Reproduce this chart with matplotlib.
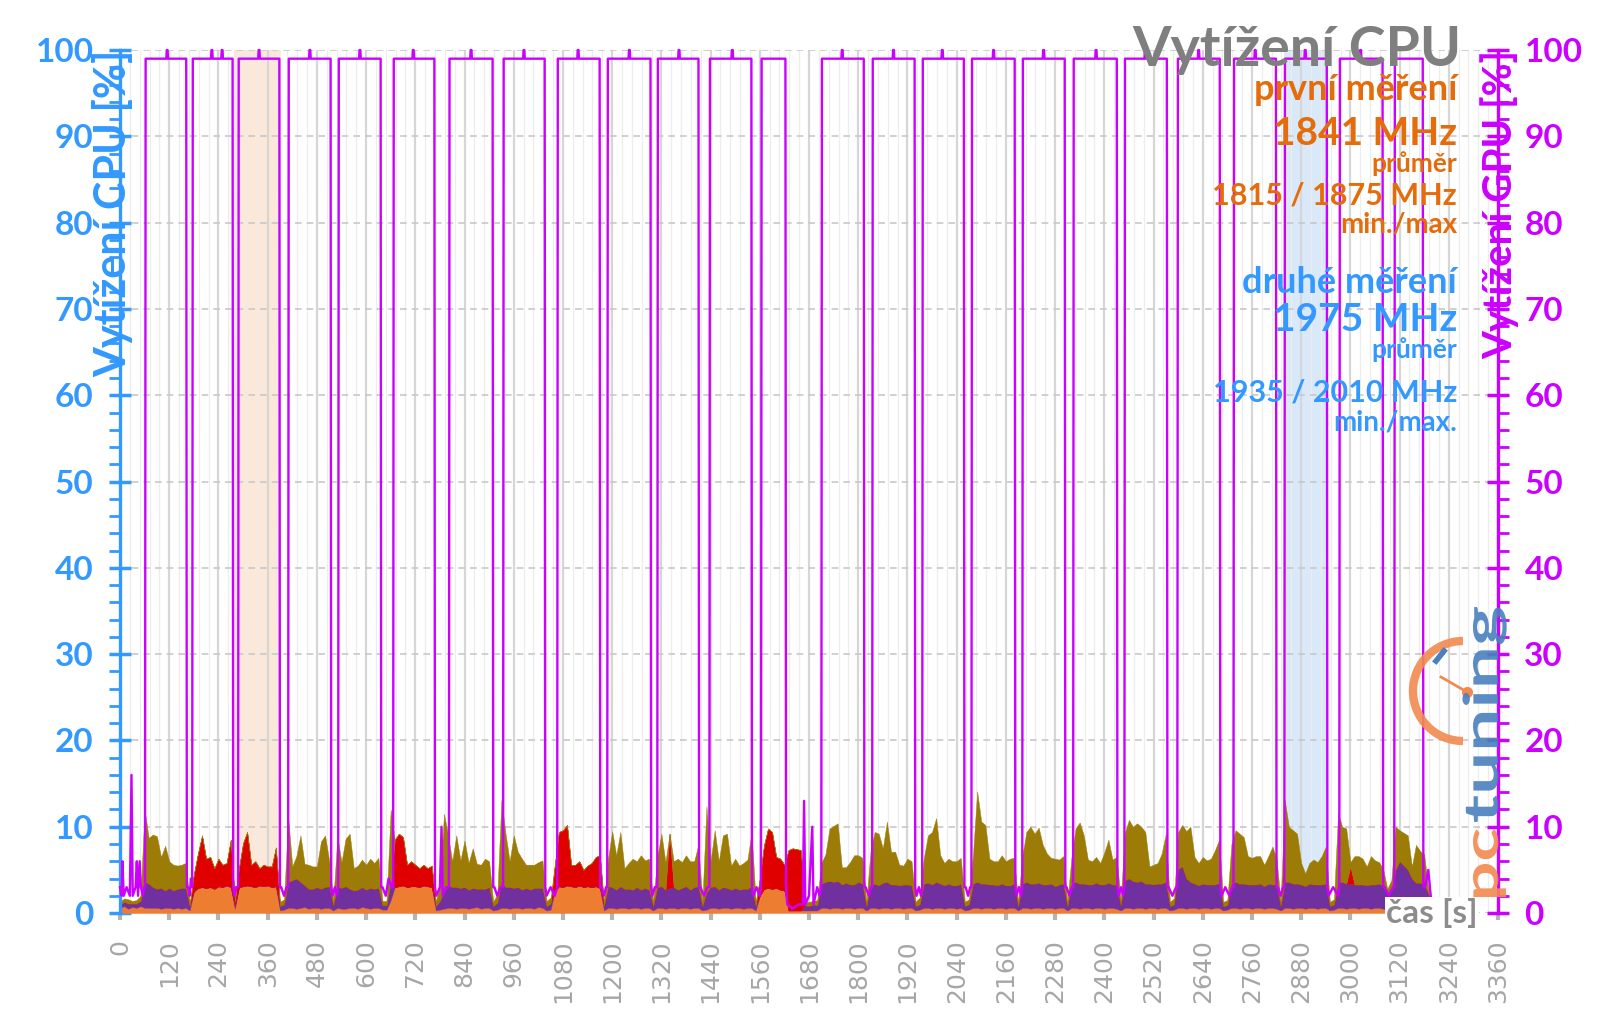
import numpy as np
import matplotlib
matplotlib.use("Agg")
import matplotlib.pyplot as plt
from matplotlib.ticker import MultipleLocator
from matplotlib.patches import Arc, PathPatch
from matplotlib.lines import Line2D
from matplotlib.textpath import TextPath
from matplotlib.font_manager import FontProperties
from matplotlib.transforms import Affine2D, IdentityTransform

plt.rcParams["font.family"] = ["Lato", "DejaVu Sans"]

# CPU load, stacked layers (%), one sample every 10 s (0 ... 3200 s)
cpu_orange = [
    0.6, 0.8, 0.5, 0.7, 0.6, 0.8,                                # 0-50
    0.6, 0.6, 0.6, 0.6, 0.5, 0.6, 0.6, 0.5, 0.6, 0.5, 0.6,       # 60-160
    0.3,
    2.5, 2.9, 3.0, 2.9, 3.0, 2.8, 3.1, 3.0, 3.2, 3.0,            # 180-270
    0.5,
    3.0, 3.1, 3.2, 3.1, 3.0, 3.2, 3.1, 3.2, 3.0, 3.1,            # 290-380
    0.3, 0.4,
    0.6, 0.6, 0.5, 0.6, 0.7, 0.5, 0.6, 0.6, 0.5, 0.6, 0.6,       # 410-510
    0.3,
    0.6, 0.5, 0.5, 0.6, 0.6, 0.5, 0.7, 0.6, 0.5, 0.6, 0.6,       # 530-630
    0.4, 0.4, 1.5,
    3.0, 3.1, 3.2, 3.0, 3.1, 3.1, 3.0, 3.2, 3.1, 3.0,            # 670-760
    0.3, 0.4, 0.5,
    0.6, 0.6, 0.5, 0.6, 0.6, 0.5, 0.6, 0.7, 0.5, 0.6, 0.6,       # 800-900
    0.3, 0.4,
    0.6, 0.6, 0.5, 0.6, 0.6, 0.5, 0.6, 0.6, 0.5, 0.7, 0.6,       # 930-1030
    0.3, 0.4,
    2.5, 3.1, 3.0, 3.2, 3.1, 3.0, 3.2, 3.0, 3.1, 3.0, 3.1, 2.9,  # 1060-1170
    0.3,
    0.6, 0.6, 0.5, 0.6, 0.6, 0.5, 0.6, 0.6, 0.5, 0.6, 0.6,       # 1190-1290
    0.3,
    0.6, 0.6, 0.5, 0.6, 0.6, 0.5, 0.6, 0.6, 0.5, 0.6, 0.6,       # 1310-1410
    0.3, 0.4,
    0.6, 0.6, 0.5, 0.6, 0.6, 0.5, 0.6, 0.6, 0.5, 0.6, 0.6,       # 1440-1540
    0.3,
    2.0, 2.8, 2.9, 2.8, 2.9, 2.7, 2.6,                           # 1560-1620
    0.3, 0.3, 0.3, 0.3,                                          # 1630-1660
    0.3, 0.3, 0.3, 0.3,                                          # 1670-1700
    0.6, 0.6, 0.5, 0.6, 0.6, 0.5, 0.6, 0.6, 0.5, 0.6, 0.6,       # 1710-1810
    0.3,
    0.6, 0.6, 0.5, 0.6, 0.6, 0.5, 0.6, 0.6, 0.5, 0.6, 0.6,       # 1830-1930
    0.3, 0.4,
    0.6, 0.6, 0.5, 0.6, 0.6, 0.5, 0.6, 0.6, 0.5, 0.6,            # 1960-2050
    0.3, 0.4,
    0.6, 0.6, 0.5, 0.6, 0.6, 0.5, 0.6, 0.6, 0.5, 0.6, 0.6,       # 2080-2180
    0.3,
    0.6, 0.6, 0.5, 0.6, 0.6, 0.5, 0.6, 0.6, 0.5, 0.6, 0.6,       # 2200-2300
    0.3,
    0.6, 0.6, 0.5, 0.6, 0.6, 0.5, 0.6, 0.6, 0.5, 0.6, 0.6, 0.5,  # 2320-2430
    0.3,
    0.6, 0.6, 0.5, 0.6, 0.6, 0.5, 0.6, 0.6, 0.5, 0.6, 0.6,       # 2450-2550
    0.3, 0.4,
    0.6, 0.6, 0.5, 0.6, 0.6, 0.5, 0.6, 0.6, 0.5, 0.6, 0.6,       # 2580-2680
    0.3, 0.4,
    0.6, 0.6, 0.5, 0.6, 0.6, 0.5, 0.6, 0.6, 0.5, 0.6, 0.6, 0.5,  # 2710-2820
    0.3,
    0.6, 0.6, 0.5, 0.6, 0.6, 0.5, 0.6, 0.6, 0.5, 0.6, 0.6,       # 2840-2940
    0.3, 0.4,
    0.6, 0.6, 0.5, 0.6, 0.6, 0.5, 0.6, 0.6, 0.5, 0.6, 0.6, 0.5,  # 2970-3080
    0.3, 0.3,
    0.5, 0.5, 0.5, 0.5, 0.5, 0.5, 0.5, 0.5,                      # 3110-3180
    0.3, 0.0,
]

cpu_purple = [
    0.4, 0.5, 0.6, 0.4, 0.5, 0.6,
    3.0, 2.8, 2.4, 2.2, 2.4, 2.0, 2.3, 2.1, 2.2, 2.4, 2.3,
    0.5,
    0, 0, 0, 0, 0, 0, 0, 0, 0, 0,
    0.3,
    0, 0, 0, 0, 0, 0, 0, 0, 0, 0,
    0.5, 0.6,
    3.0, 3.2, 3.5, 3.0, 2.5, 2.3, 2.2, 2.4, 2.3, 2.4, 2.5,
    0.6,
    2.5, 2.4, 2.6, 2.2, 2.0, 2.2, 2.3, 2.1, 2.4, 2.2, 2.3,
    0.5, 0.5, 2.0,
    0, 0, 0, 0, 0, 0, 0, 0, 0, 0,
    0.5, 1.0, 2.0,
    2.6, 2.4, 2.5, 2.3, 2.4, 2.2, 2.3, 2.1, 2.3, 2.2, 2.4,
    0.5, 0.8,
    3.0, 2.4, 2.5, 2.3, 2.4, 2.2, 2.3, 2.1, 2.4, 2.2, 2.3,
    0.5, 0.7,
    0, 0, 0, 0, 0, 0, 0, 0, 0, 0, 0, 0,
    0.5,
    2.5, 2.4, 2.2, 2.5, 2.2, 2.3, 2.1, 2.4, 2.2, 2.3, 2.1,
    0.5,
    2.4, 2.5, 2.2, 2.3, 2.4, 2.2, 2.3, 2.5, 2.2, 2.4, 2.5,
    0.5, 2.0,
    2.4, 2.5, 2.2, 2.4, 2.3, 2.2, 2.3, 2.1, 2.3, 2.2, 2.5,
    0.5,
    0, 0, 0, 0, 0, 0, 0,
    0, 0, 0, 0,
    0.6, 0.5, 0.7, 0.6,
    2.8, 3.0, 3.2, 3.0, 3.1, 2.8, 2.9, 2.7, 2.8, 3.0, 2.8,
    0.5,
    2.6, 2.8, 2.7, 2.9, 3.0, 2.8, 2.7, 2.6, 2.8, 2.7, 2.6,
    0.5, 0.6,
    2.8, 2.9, 2.8, 3.0, 2.8, 2.7, 2.8, 2.6, 2.7, 2.8,
    0.5, 0.6,
    2.8, 3.0, 2.9, 2.8, 2.7, 2.8, 2.6, 2.8, 2.7, 2.6, 2.8,
    0.5,
    2.8, 3.0, 2.9, 2.8, 2.9, 2.8, 2.7, 2.8, 2.6, 2.7, 2.8,
    0.5,
    2.8, 3.0, 2.9, 2.8, 2.7, 2.8, 2.9, 2.7, 2.8, 2.9, 2.7, 2.8,
    0.6,
    3.2, 3.4, 3.2, 3.0, 3.1, 2.9, 2.8, 2.7, 2.9, 2.8, 3.0,
    0.5, 0.6,
    4.5, 4.8, 3.5, 3.0, 2.8, 2.7, 2.8, 2.7, 2.8, 2.7, 2.9,
    0.5, 0.5,
    2.8, 3.0, 2.9, 2.8, 2.7, 2.8, 2.7, 2.8, 2.6, 2.8, 2.7, 2.8,
    0.5,
    3.0, 3.0, 2.9, 2.8, 2.7, 2.6, 2.8, 2.7, 2.8, 2.7, 2.8,
    0.5, 0.6,
    3.0, 3.0, 2.9, 2.8, 2.7, 2.8, 2.7, 2.6, 2.8, 2.7, 2.8, 2.6,
    2.0, 2.5,
    4.5, 5.5, 5.0, 4.5, 3.5, 3.0, 3.0, 2.8,
    2.0, 0.0,
]

cpu_red = (
    [0.0] * 18
    + [2.0, 4.0, 6.0, 3.4, 3.5, 2.4, 3.2, 2.6, 2.6, 5.5]          # 180-270
    + [0.5]
    + [2.2, 5.0, 6.2, 2.5, 3.0, 2.0, 2.5, 2.2, 2.4, 4.5]          # 290-380
    + [0.0] * 28
    + [5.5, 6.1, 5.6, 2.6, 2.9, 2.5, 2.2, 2.4, 2.1, 2.5]          # 670-760
    + [0.0] * 29
    + [3.0, 6.3, 6.6, 7.0, 2.5, 2.6, 2.8, 2.0, 2.4, 2.8, 3.4, 3.8]  # 1060-1170
    + [0.0] * 16
    + [6.3]                                                      # 1340
    + [0.0] * 21
    + [2.0, 5.0, 6.9, 6.6, 3.6, 3.6, 3.0]                        # 1560-1620
    + [7.0, 7.2, 7.1, 7.0]                                       # 1630-1660
    + [0.0] * 133
    + [2.0]                                                      # 3000
    + [0.0] * 20
)

cpu_olive = [
    0.3, 0.4, 0.5, 0.3, 0.4, 0.6,
    8.4, 5.3, 6.1, 6.1, 3.6, 5.2, 3.1, 3.0, 2.7, 2.7, 2.9,
    0.4,
    0, 0, 0, 0, 0, 0, 0, 0, 0, 0,
    0.3,
    0, 0, 0, 0, 0, 0, 0, 0, 0, 0,
    0.5, 0.6,
    7.5, 1.6, 2.6, 5.4, 2.5, 2.8, 2.6, 2.4, 5.5, 6.0, 3.0,
    0.5,
    5.8, 3.0, 5.5, 6.4, 2.6, 2.8, 3.2, 2.9, 3.4, 3.0, 3.5,
    0.5, 0.5, 8.5,
    0, 0, 0, 0, 0, 0, 0, 0, 0, 0,
    0.5, 2.0, 9.0,
    5.8, 3.0, 6.0, 3.2, 5.4, 3.1, 4.6, 2.9, 2.8, 3.5, 3.0,
    0.5, 1.0,
    9.5, 6.2, 3.0, 6.1, 4.1, 3.6, 2.7, 2.9, 2.7, 3.0, 3.2,
    0.6, 0.7,
    0, 0, 0, 0, 0, 0, 0, 0, 0, 0, 0, 0,
    0.5,
    3.2, 6.5, 4.0, 6.3, 2.4, 3.0, 3.6, 3.0, 4.0, 3.2, 3.6,
    0.5,
    3.5, 6.1, 3.2, 0.0, 3.0, 3.6, 3.0, 3.6, 3.3, 3.0, 4.8,
    0.5, 10.0,
    3.0, 6.5, 3.3, 6.0, 6.3, 2.8, 3.4, 2.8, 3.0, 3.4, 6.3,
    0.5,
    0, 0, 0, 0, 0, 0, 0,
    0, 0, 0, 0,
    0.4, 0.5, 0.4, 0.6,
    2.4, 3.2, 6.1, 6.5, 6.7, 2.0, 1.8, 2.6, 3.4, 3.1, 3.0,
    0.5,
    4.0, 6.0, 6.0, 4.0, 7.0, 3.8, 3.8, 2.4, 2.2, 3.0, 2.8,
    0.5, 0.8,
    3.0, 5.5, 6.1, 7.4, 3.3, 2.6, 2.9, 2.8, 2.8, 3.0,
    0.5, 0.6,
    3.5, 10.5, 7.2, 6.8, 3.0, 2.7, 2.8, 3.3, 2.8, 3.1, 3.0,
    0.5,
    3.2, 5.8, 6.6, 5.8, 6.4, 4.6, 3.6, 3.0, 3.2, 2.9, 3.2,
    0.5,
    3.1, 6.2, 7.1, 5.6, 2.9, 2.7, 3.0, 2.5, 3.7, 5.0, 2.9, 3.2,
    0.6,
    5.5, 6.8, 6.3, 6.8, 6.3, 6.0, 2.0, 2.3, 2.4, 3.5, 5.6,
    0.5, 0.7,
    4.3, 4.8, 5.5, 6.4, 3.1, 2.6, 3.1, 2.8, 3.0, 4.0, 5.0,
    0.5, 0.6,
    4.6, 6.0, 5.8, 5.4, 3.3, 3.1, 3.3, 3.2, 2.5, 3.2, 4.4, 3.0,
    0.5,
    9.5, 6.4, 6.2, 5.8, 2.5, 1.5, 2.4, 2.9, 2.6, 3.3, 4.3,
    0.5, 0.6,
    8.0, 6.4, 6.4, 0.5, 3.3, 3.3, 3.0, 2.2, 3.3, 2.8, 2.5, 2.0,
    0.5, 1.0,
    5.0, 3.6, 3.8, 4.0, 1.4, 4.4, 3.7, 3.5,
    0.5, 0.0,
]

# GPU load (%): rises / falls of the ~99 % plateaus, short 100 % blips, low phases
gpu_rise = [61, 176, 288, 410, 532, 666, 802, 934, 1066, 1188, 1310, 1437, 1563,
            1710, 1834, 1956, 2076, 2200, 2324, 2449, 2578, 2715, 2839, 2973, 3107]
gpu_fall = [163, 276, 390, 515, 637, 768, 910, 1037, 1171, 1295, 1412, 1541, 1624,
            1815, 1939, 2059, 2183, 2305, 2432, 2554, 2683, 2820, 2944, 3080, 3178]
gpu_high = 99
gpu_peaks = [115, 224, 249, 339, 463, 585, 715, 856, 985, 1117, 1242, 1363, 1493,
             1761, 1886, 2005, 2130, 2252, 2380, 2500, 2630, 2768, 2890, 3025]
gpu_low_t = [0, 4, 6, 9, 16, 24, 28, 31, 38, 41, 44, 48, 51, 56, 59,
             166, 170, 173, 279, 283, 393, 400, 406, 518, 524, 529,
             640, 648, 655, 662, 771, 780, 784, 787, 795, 913, 920, 928,
             1040, 1050, 1060, 1174, 1180, 1185, 1298, 1304, 1415, 1424, 1432,
             1544, 1552, 1559,
             1627, 1640, 1655, 1665, 1668, 1671, 1680, 1688, 1691, 1700, 1706,
             1818, 1826, 1831, 1942, 1948, 1953, 2062, 2068, 2073, 2186, 2192, 2197,
             2308, 2315, 2321, 2435, 2441, 2446, 2557, 2566, 2575,
             2686, 2695, 2705, 2712, 2823, 2830, 2836, 2947, 2958, 2970,
             3083, 3094, 3104, 3182, 3190, 3196, 3202]
gpu_low_v = [3, 2, 6, 2, 3, 2, 16, 2, 3, 6, 2, 6, 3, 2, 3,
             3, 2, 4, 2, 3, 3, 2, 3, 2, 3, 2,
             3, 2, 4, 3, 2, 3, 10, 2, 3, 3, 2, 3,
             2, 3, 2, 3, 2, 3, 2, 3, 3, 2, 3,
             2, 3, 2,
             1, 0.5, 1, 1, 13, 1, 2, 10, 1, 3, 2,
             3, 2, 3, 2, 3, 2, 3, 2, 3, 2, 3, 2,
             3, 2, 3, 2, 3, 2, 3, 2, 3,
             2, 3, 2, 3, 3, 2, 3, 2, 3, 2,
             3, 2, 3, 3, 5, 2, 0]

x_ticks = list(range(0, 3361, 120))

BLUE = "#3399FF"
MAGENTA = "#CC00FF"
ORANGE_TXT = "#E46C0A"
GREY = "#7F7F7F"

n = len(cpu_orange)
assert len(cpu_purple) == n and len(cpu_red) == n and len(cpu_olive) == n, \
    (len(cpu_orange), len(cpu_purple), len(cpu_red), len(cpu_olive))
t = np.arange(n) * 10

pts = list(zip(gpu_low_t, gpu_low_v))
for r, f in zip(gpu_rise, gpu_fall):
    pts += [(r, 3), (r + 1.5, gpu_high), (f - 1.5, gpu_high), (f, 3)]
for p in gpu_peaks:
    pts += [(p - 2, gpu_high), (p - 1, 100), (p + 1, 100), (p + 2, gpu_high)]
pts.sort()
gpu_t = [a for a, _ in pts]
gpu_v = [b for _, b in pts]

fig = plt.figure(figsize=(16, 10.09), dpi=100)
ax = fig.add_axes([0.075, 0.0951, 0.86125, 0.8553])
ax.set_xlim(0, 3360)
ax.set_ylim(0, 100)

# grid and highlighted runs
ax.xaxis.set_minor_locator(MultipleLocator(24))
ax.grid(axis="x", which="minor", color="#EDEDED", lw=0.9)
ax.grid(axis="x", which="major", color="#D6D6D6", lw=1.6)
ax.grid(axis="y", which="major", color="#C8C8C8", lw=1.2, ls=(0, (4, 3)))
ax.set_axisbelow(True)
ax.axvspan(277, 392, color="#FBE4D3", alpha=0.85, lw=0, zorder=0.5)
ax.axvspan(2839, 2944, color="#D5E7F9", alpha=0.9, lw=0, zorder=0.5)

ax.stackplot(t, cpu_orange, cpu_purple, cpu_red, cpu_olive,
             colors=["#ED7D31", "#7030A0", "#E00000", "#9C7B06"],
             lw=0.3, edgecolor="face", zorder=2)

ax2 = ax.twinx()
ax2.set_ylim(0, 100)
ax2.plot(gpu_t, gpu_v, color=MAGENTA, lw=1.7, clip_on=False, zorder=3)

# axes styling
ax.set_xticks(x_ticks)
ax.set_xticklabels([str(v) for v in x_ticks], rotation=90, family="DejaVu Sans")
ax.tick_params(axis="x", which="major", direction="out", length=5, width=3,
               color="#B4B4B4", labelsize=18, labelcolor="#A6A6A6", pad=14)
ax.tick_params(axis="x", which="minor", length=0)

for a, col, side in ((ax, BLUE, "left"), (ax2, MAGENTA, "right")):
    a.yaxis.set_major_locator(MultipleLocator(10))
    a.yaxis.set_minor_locator(MultipleLocator(2))
    a.tick_params(axis="y", which="major", direction="inout", length=16, width=2.5,
                  color=col, labelcolor=col, labelsize=24, pad=11)
    a.tick_params(axis="y", which="minor", direction="out", length=8, width=2, color=col)
    for lbl in a.get_yticklabels():
        lbl.set_fontweight("bold")
    for s in a.spines.values():
        s.set_visible(False)
    a.spines[side].set_visible(True)
    a.spines[side].set_color(col)
    a.spines[side].set_linewidth(2.4)

ax.text(-0.005, 1.0, "Vytížení CPU [%]", transform=ax.transAxes, rotation=90,
        ha="center", va="top", fontsize=31, fontweight="bold", color=BLUE, zorder=5)
ax2.text(1.0015, 1.0, "Vytížení GPU [%]", transform=ax2.transAxes, rotation=90,
         ha="center", va="top", fontsize=29, fontweight="bold", color=MAGENTA, zorder=5)

# title and notes (right aligned, pixel baselines)
W, H = 1600, 1009
fig.text(1461 / W, 1 - 66 / H, "Vytížení CPU", ha="right", va="baseline",
         fontsize=40, fontweight="bold", color=GREY)
notes = [
    ("první měření", 26, 100, ORANGE_TXT),
    ("1841 MHz", 28, 145, ORANGE_TXT),
    ("průměr", 19, 172, ORANGE_TXT),
    ("1815 / 1875 MHz", 22, 205, ORANGE_TXT),
    ("min./max", 20, 233, ORANGE_TXT),
    ("druhé měření", 26, 293, BLUE),
    ("1975 MHz", 28, 331, BLUE),
    ("průměr", 19, 358, BLUE),
    ("1935 / 2010 MHz", 22, 402, BLUE),
    ("min./max.", 20, 430, BLUE),
]
for txt, size, base, col in notes:
    fig.text(1457 / W, 1 - base / H, txt, ha="right", va="baseline",
             fontsize=size, fontweight="bold", color=col)

fig.text(1478 / W, 1 - 923 / H, "čas [s]", ha="right", va="baseline", fontsize=24,
         fontweight="bold", color="#8C8C8C",
         bbox=dict(facecolor="white", edgecolor="none", pad=1))


# logo, drawn in pixel coordinates
def logo_word(word, color, x_base, y0, length, em):
    tp = TextPath((0, 0), word, size=1,
                  prop=FontProperties(family="Lato", weight="bold"))
    bb = tp.get_extents()
    tr = (Affine2D().translate(-bb.x0, 0).scale(length / bb.width, em)
          .rotate_deg(90).translate(x_base, y0))
    fig.add_artist(PathPatch(tp, transform=tr, facecolor=color, edgecolor="none",
                             alpha=0.9, zorder=6))


logo_word("pc", "#F28A50", 1498, H - 897, 68, 48)
logo_word("tuning", "#4A80BE", 1498, H - 822, 215, 48)
fig.add_artist(Arc((1463, H - 691), 100, 100, theta1=90, theta2=270,
                   transform=IdentityTransform(), color="#F28A50", lw=6, alpha=0.9))
fig.add_artist(Line2D([1467, 1441], [H - 692, H - 677], transform=IdentityTransform(),
                      color="#F28A50", lw=2))
fig.add_artist(Line2D([1467], [H - 692], transform=IdentityTransform(), marker="o",
                      ms=7, color="#F28A50"))
fig.add_artist(Line2D([1436, 1444], [H - 661, H - 651], transform=IdentityTransform(),
                      color="#4A80BE", lw=4))

fig.savefig("out.png", dpi=100)
